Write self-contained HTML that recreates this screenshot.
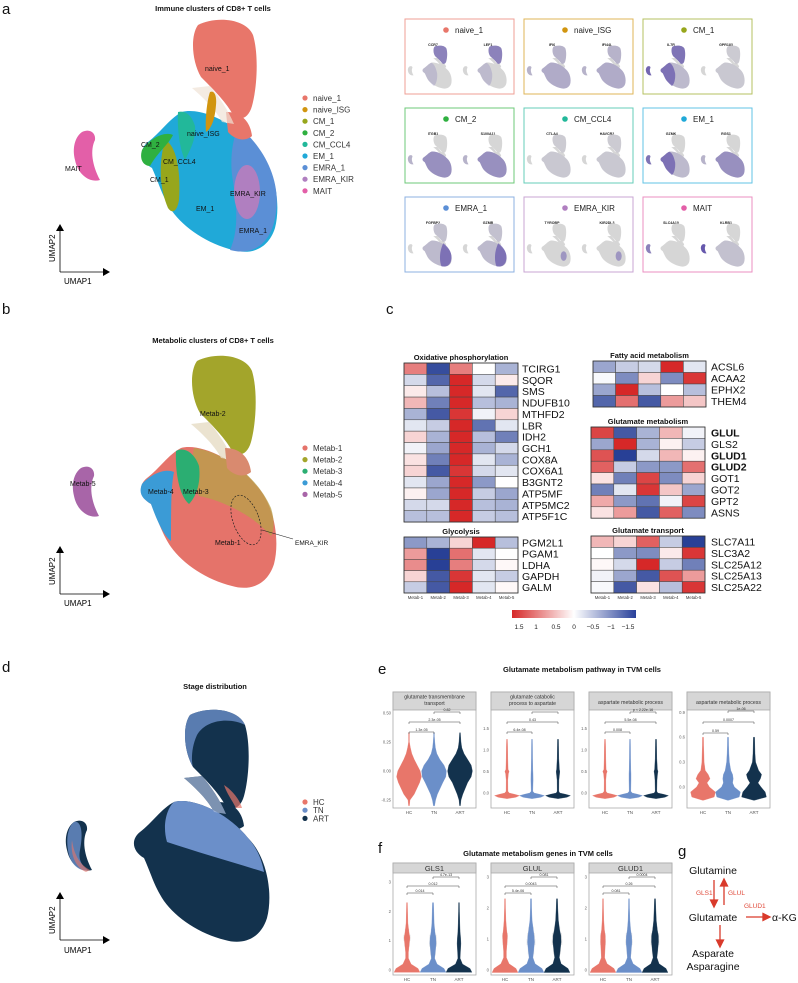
<!DOCTYPE html>
<html><head><meta charset="utf-8">
<style>
html,body{margin:0;padding:0;background:#fff;}
svg{display:block;font-family:"Liberation Sans",Arial,sans-serif;}
.t{font-weight:bold;font-size:7.5px;text-anchor:middle;fill:#111}
.lab{font-size:7px;fill:#111}
.leg{font-size:8px;fill:#333}
.L{font-size:15px;fill:#111}
</style></head><body>
<svg id="fig" width="798" height="983" viewBox="0 0 798 983" xmlns="http://www.w3.org/2000/svg">
<defs>
<linearGradient id="cbar" x1="0" x2="1" y1="0" y2="0">
<stop offset="0" stop-color="#d62828"/><stop offset="0.5" stop-color="#ffffff"/><stop offset="1" stop-color="#28409a"/>
</linearGradient>
<g id="shapeAll">
<path d="M198 25 C215 16 246 18 253 35 C259 55 257 88 252 106 C248 120 238 122 232 113 C225 101 212 88 201 77 C192 62 190 36 198 25Z"/>
<path d="M182 112 C200 107 235 122 256 148 C276 168 281 205 275 228 C268 250 250 255 233 250 C208 244 184 228 172 211 C162 196 160 186 152 168 C141 162 138 150 148 142 C160 133 170 118 182 112Z"/>
<path d="M192 88 C200 95 215 108 222 122 L234 124 C228 110 220 98 210 86Z"/>
<path d="M226 112 C240 112 250 120 252 136 C245 142 235 140 228 132Z"/>
<path d="M82 132 C90 128 96 133 95 140 C90 150 92 165 100 180 C90 183 78 175 75 160 C72 148 75 137 82 132Z"/>
</g>
</defs>

<text class="L" x="2" y="14">a</text>
<text class="L" x="2" y="314">b</text>
<text class="L" x="386" y="314">c</text>
<text class="L" x="2" y="672">d</text>
<text class="L" x="378" y="674">e</text>
<text class="L" x="378" y="853">f</text>
<text class="L" x="678" y="856">g</text>

<text class="t" x="213" y="11">Immune clusters of CD8+ T cells</text>
<g id="umapA">
<path fill="#20a9d8" d="M182 112 C200 107 235 122 256 148 C276 168 281 205 275 228 C268 250 250 255 233 250 C208 244 184 228 172 211 C162 196 160 186 152 168 C141 162 138 150 148 142 C160 133 170 118 182 112Z"/>
<path fill="#5b8fd6" d="M238 126 C262 145 281 178 276 212 C272 245 252 256 230 250 C240 228 236 200 232 175 C230 155 233 140 238 126Z"/>
<ellipse fill="#b07fc0" cx="247" cy="192" rx="13" ry="27"/>
<path fill="#97a61c" d="M165 140 C176 145 181 170 179 200 C177 212 172 214 168 208 C160 190 158 165 165 140Z"/>
<path fill="#2fb040" d="M142 150 C150 138 165 131 173 135 C168 145 158 152 150 166 C144 166 139 160 142 150Z"/>
<path fill="#22b89a" d="M178 112 C186 110 192 116 195 126 C196 140 190 150 185 160 C180 150 177 130 178 112Z"/>
<path fill="#e8766a" d="M198 25 C215 16 246 18 253 35 C259 55 257 88 252 106 C248 120 238 122 232 113 C225 101 212 88 201 77 C192 62 190 36 198 25Z"/>
<path fill="#e8766a" d="M226 112 C240 112 250 120 252 136 C245 142 235 140 228 132Z"/>
<path fill="#efe3d6" opacity="0.7" d="M192 88 C200 95 215 108 222 122 L234 124 C228 110 220 98 210 86Z"/>
<path fill="#d1950f" d="M210 92 C214 90 217 95 216 105 C215 118 212 128 206 132 C205 120 207 100 210 92Z"/>
<path fill="#e35fa8" d="M82 132 C90 128 96 133 95 140 C90 150 92 165 100 180 C90 183 78 175 75 160 C72 148 75 137 82 132Z"/>
<g class="lab">
<text x="205" y="71">naive_1</text><text x="187" y="136">naive_ISG</text><text x="141" y="147">CM_2</text>
<text x="163" y="164">CM_CCL4</text><text x="150" y="182">CM_1</text><text x="196" y="211">EM_1</text>
<text x="230" y="196">EMRA_KIR</text><text x="239" y="233">EMRA_1</text><text x="65" y="171">MAIT</text>
</g>
</g>
<g id="legendA"></g>
<g>
<path d="M60 272 V230 M60 272 H104" stroke="#000" stroke-width="0.8" fill="none"/>
<path d="M56 231 L60 224 L64 231Z M103 268 L110 272 L103 276Z" fill="#000"/>
<text x="55" y="262" font-size="8" transform="rotate(-90 55 262)">UMAP2</text>
<text x="64" y="284" font-size="8">UMAP1</text>
</g>

<g id="featGrid"></g>

<text class="t" x="213" y="343">Metabolic clusters of CD8+ T cells</text>
<g transform="translate(-1,336)">
<path fill="#e5736a" d="M182 112 C200 107 235 122 256 148 C276 168 281 205 275 228 C268 250 250 255 233 250 C208 244 184 228 172 211 C162 196 160 186 152 168 C141 162 138 150 148 142 C160 133 170 118 182 112Z"/>
<path fill="#b7a14a" opacity="0.75" d="M195 112 C225 116 258 140 272 172 C276 185 275 195 272 200 C255 180 225 165 200 160 C192 140 192 125 195 112Z"/>
<path fill="#a3a52b" d="M198 25 C215 16 246 18 253 35 C259 55 257 88 252 106 C248 120 238 122 232 113 C225 101 212 88 201 77 C192 62 190 36 198 25Z"/>
<path fill="#e6dcc4" opacity="0.8" d="M192 88 C200 95 215 108 222 122 L234 124 C228 110 220 98 210 86Z"/>
<path fill="#d98a6f" d="M226 112 C240 112 250 120 252 136 C245 142 235 140 228 132Z"/>
<path fill="#3b9bd6" d="M143 148 C152 138 166 132 175 136 C172 150 172 175 172 205 C165 200 158 185 152 168 C144 163 139 158 143 148Z"/>
<path fill="#2bae72" d="M177 115 C186 110 196 118 200 130 C202 145 198 160 190 168 C180 160 176 135 177 115Z"/>
<path fill="#a865a8" d="M82 132 C90 128 96 133 95 140 C90 150 92 165 100 180 C90 183 78 175 75 160 C72 148 75 137 82 132Z"/>
<ellipse cx="247" cy="184" rx="13" ry="26" transform="rotate(-20 247 184)" fill="none" stroke="#222" stroke-width="0.7" stroke-dasharray="2,1.5"/>
<path d="M263 194 L294 203" stroke="#222" stroke-width="0.6"/>
<g class="lab">
<text x="201" y="80">Metab-2</text><text x="71" y="150">Metab-5</text><text x="149" y="158">Metab-4</text>
<text x="184" y="158">Metab-3</text><text x="216" y="209">Metab-1</text><text x="296" y="209" font-size="6.5">EMRA_KIR</text>
</g>
</g>
<g id="legendB"></g>
<g>
<path d="M60 594 V553 M60 594 H104" stroke="#000" stroke-width="0.8" fill="none"/>
<path d="M56 553 L60 546 L64 553Z M103 590 L110 594 L103 598Z" fill="#000"/>
<text x="55" y="585" font-size="8" transform="rotate(-90 55 585)">UMAP2</text>
<text x="64" y="606" font-size="8">UMAP1</text>
</g>

<g id="heatmaps"></g>
<g>
<rect x="512" y="610" width="124" height="8" fill="url(#cbar)"/>
<g font-size="6.5" fill="#222" text-anchor="middle">
<text x="519" y="629">1.5</text><text x="536" y="629">1</text><text x="556" y="629">0.5</text><text x="574" y="629">0</text>
<text x="593" y="629">−0.5</text><text x="611" y="629">−1</text><text x="628" y="629">−1.5</text>
</g></g>

<text class="t" x="215" y="689">Stage distribution</text>
<g transform="translate(-8,690)">
<use href="#shapeAll" fill="#13324d"/>
<path fill="#6b8fc9" d="M182 112 C200 107 235 122 256 148 C265 158 270 170 272 182 C240 172 205 162 175 152 C170 135 175 118 182 112Z"/>
<path fill="#6b8fc9" opacity="0.8" d="M198 25 C215 16 246 18 253 35 C240 28 215 28 205 45 C198 60 200 75 201 77 C192 62 190 36 198 25Z"/>
<path fill="#a9bbdc" opacity="0.7" d="M192 88 C200 95 215 108 222 122 L234 124 C228 110 220 98 210 86Z"/>
<path fill="#e8766a" opacity="0.7" d="M232 95 C240 100 248 110 250 118 L244 118 C240 110 235 104 232 95Z"/>
<path fill="#6b8fc9" opacity="0.8" d="M82 132 C88 130 92 140 88 160 C86 170 90 176 96 180 C88 182 78 175 76 160 C74 148 76 137 82 132Z"/>
<path fill="#e8766a" opacity="0.6" d="M80 150 C82 165 88 175 98 180 L94 182 C84 178 78 165 80 150Z"/>
</g>
<g id="legendD"></g>
<g>
<path d="M60 940 V899 M60 940 H104" stroke="#000" stroke-width="0.8" fill="none"/>
<path d="M56 899 L60 892 L64 899Z M103 936 L110 940 L103 944Z" fill="#000"/>
<text x="55" y="934" font-size="8" transform="rotate(-90 55 934)">UMAP2</text>
<text x="64" y="953" font-size="8">UMAP1</text>
</g>

<text class="t" x="582" y="672">Glutamate metabolism pathway in TVM cells</text>
<text class="t" x="538" y="856">Glutamate metabolism genes in TVM cells</text>
<g id="violins"></g>

<g font-size="10.5" fill="#111">
<text x="713" y="874" text-anchor="middle">Glutamine</text>
<text x="713" y="921" text-anchor="middle">Glutamate</text>
<text x="772" y="921">α-KG</text>
<text x="713" y="957" text-anchor="middle">Asparate</text>
<text x="713" y="970" text-anchor="middle">Asparagine</text>
<g stroke="#d93a2b" stroke-width="1.3" fill="#d93a2b">
<path d="M714 880 V901"/><path d="M710.5 900 L714 907 L717.5 900Z"/>
<path d="M724 905 V885"/><path d="M720.5 886 L724 879 L727.5 886Z"/>
<path d="M746 917 H764"/><path d="M763 913.5 L770 917 L763 920.5Z"/>
<path d="M720 925 V941"/><path d="M716.5 940 L720 947 L723.5 940Z"/>
</g>
<g font-size="6.5" fill="#e04a3a">
<text x="696" y="895">GLS1</text><text x="728" y="895">GLUL</text><text x="744" y="908">GLUD1</text>
</g>
</g>
</svg>

<script>
const immuneClusters = ["naive_1","naive_ISG","CM_1","CM_2","CM_CCL4","EM_1","EMRA_1","EMRA_KIR","MAIT"];
const immuneColors = ["#e8766a","#d1950f","#97a61c","#2fb040","#22b89a","#20a9d8","#5b8fd6","#b07fc0","#e35fa8"];
const metabClusters = ["Metab-1","Metab-2","Metab-3","Metab-4","Metab-5"];
const metabColors = ["#e5736a","#a3a52b","#2bae72","#3b9bd6","#a865a8"];
const stages = ["HC","TN","ART"];
const stageColors = ["#e8766a","#6b8fc9","#13324d"];

const featGenes = [["CCR7","LEF1"],["IFI6","IFI44L"],["IL7R","GPR183"],["ITGB1","S100A11"],["CTLA4","HAVCR2"],["GZMK","RGS1"],["FGFBP2","GZMB"],["TYROBP","KIR2DL3"],["SLC4A10","KLRB1"]];
const featRegions = [["top","top"],["all","all"],["topleft","light"],["body","body"],["light","light"],["left","body"],["right","right"],["spot","spot"],["mait","maitb"]];

const oxGenes = ["TCIRG1","SQOR","SMS","NDUFB10","MTHFD2","LBR","IDH2","GCH1","COX8A","COX6A1","B3GNT2","ATP5MF","ATP5MC2","ATP5F1C"];
const oxVals = [[0.9,-1.4,0.9,0,-0.6],[-0.3,-1.2,1.5,-0.3,0.15],[0.15,-0.5,1.5,-0.2,-1.2],[0.5,-1.0,1.5,-0.5,-0.6],[-0.6,-1.3,1.4,-0.1,0.3],[-0.2,-0.4,1.5,-1.1,-0.2],[0.3,-0.6,1.5,-0.5,-1.0],[-0.1,-0.7,1.5,-0.6,-0.3],[0.2,-1.0,1.5,-0.2,-0.6],[0.3,-1.3,1.4,-0.3,-0.2],[-0.2,-0.7,1.5,-0.8,0],[0.1,-0.7,1.5,-0.4,-0.7],[-0.3,-0.3,1.5,-0.5,-0.6],[-0.5,-0.5,1.5,-0.4,-0.5]];
const glyGenes = ["PGM2L1","PGAM1","LDHA","GAPDH","GALM"];
const glyVals = [[-0.8,-0.6,0.3,1.5,-0.5],[0.7,-1.5,1.0,-0.2,0],[0.8,-1.5,0.9,-0.3,0.05],[0.3,-1.3,1.4,-0.2,-0.4],[-0.4,-1.3,1.5,-0.2,0.05]];
const fatGenes = ["ACSL6","ACAA2","EPHX2","THEM4"];
const fatVals = [[-0.7,-0.4,-0.3,1.5,-0.2],[-0.05,-0.9,0.3,-0.9,1.4],[-0.7,1.5,-0.5,0,-0.5],[-1.2,1.0,-1.3,0.7,0.4]];
const gmGenes = ["GLUL","GLS2","GLUD1","GLUD2","GOT1","GOT2","GPT2","ASNS"];
const gmBold = ["GLUL","GLUD1","GLUD2"];
const gmVals = [[1.3,-1.3,-0.6,0.5,-0.1],[-0.7,1.5,-0.6,0.1,-0.4],[1.2,-1.5,-0.3,0.5,0.1],[1.1,-0.4,-0.8,-0.8,1.0],[0.2,-1.0,1.3,-0.9,0.3],[-1.0,-0.2,1.4,0.4,-0.7],[0.6,-0.8,-1.1,-0.1,1.3],[0.2,0.7,-1.3,1.1,-0.9]];
const gtGenes = ["SLC7A11","SLC3A2","SLC25A12","SLC25A13","SLC25A22"];
const gtVals = [[0.5,0.3,1.1,-0.4,-1.5],[0,-0.8,-0.9,0.15,1.4],[0.05,-0.3,1.5,-0.4,-1.0],[-0.1,-0.7,-1.3,1.2,0.7],[-0.05,-1.3,0.2,-0.5,1.4]];

const e1Title = ["glutamate transmembrane","transport"];
const e1Levels = [-0.3,-0.25,-0.2,-0.1,-0.05,0,0.05,0.1,0.15,0.2,0.25,0.3,0.33];
const e1HC = [0,0.05,0.4,0.85,1.0,0.9,0.65,0.4,0.2,0.08,0,0,0];
const e1TN = [0.02,0.1,0.25,0.7,0.95,1.0,0.8,0.45,0.2,0.08,0.03,0,0];
const e1ART = [0,0.05,0.2,0.6,0.9,1.0,0.9,0.6,0.3,0.12,0.05,0.02,0];
const e1Ticks = [-0.25,0,0.25,0.5];
const e1P = ["1.3e-05","2.3e-05","0.82"];

const e2Title = ["glutamate catabolic","process to aspartate"];
const e2Levels = [-0.13,-0.1,-0.06,-0.03,0.0,0.04,0.3,0.45,0.5,0.55,0.8,1.1,1.25];
const e2HC = [0,0.7,1.0,0.6,0.15,0.04,0.03,0.08,0.14,0.06,0.03,0.015,0];
const e2TN = [0,0.7,1.0,0.6,0.15,0.03,0.06,0.05,0.04,0.03,0.02,0.01,0];
const e2ART = [0,0.7,1.0,0.6,0.12,0.03,0.04,0.1,0.12,0.08,0.03,0.02,0.01];
const e2Ticks = [0,0.5,1,1.5];
const e2P = ["6.4e-08","0.43",""];

const e3Title = ["aspartate metabolic process"];
const e3Levels = e2Levels;
const e3HC = [0,0.7,1.0,0.6,0.15,0.04,0.03,0.08,0.15,0.06,0.03,0.015,0];
const e3TN = [0,0.7,1.0,0.6,0.15,0.03,0.05,0.05,0.04,0.03,0.02,0.01,0];
const e3ART = [0,0.7,1.0,0.6,0.12,0.03,0.05,0.1,0.13,0.08,0.03,0.02,0.01];
const e3Ticks = [0,0.5,1,1.5];
const e3P = ["0.008","5.5e-08","p < 2.22e-16"];

const e4Title = ["aspartate metabolic process"];
const e4Levels = [-0.16,-0.12,-0.06,0,0.05,0.1,0.15,0.2,0.3,0.4,0.5,0.6];
const e4HC = [0,0.9,1.0,0.5,0.3,0.55,0.4,0.15,0.06,0.04,0.02,0.01];
const e4TN = [0,0.9,1.0,0.5,0.35,0.4,0.35,0.2,0.08,0.04,0.02,0.01];
const e4ART = [0,1.0,0.9,0.55,0.3,0.5,0.6,0.35,0.1,0.05,0.03,0.02];
const e4Ticks = [0,0.3,0.6,0.9];
const e4P = ["0.59","0.0007","1e-06"];

const fLevels = [-0.08,0.05,0.2,0.4,0.6,0.9,1.1,1.3,1.6,2.0,2.3];
const f1Title = ["GLS1"];
const f1HC = [1.0,0.85,0.3,0.08,0.08,0.15,0.2,0.12,0.04,0.02,0];
const f1TN = [1.0,0.85,0.3,0.1,0.15,0.22,0.2,0.12,0.06,0.03,0.01];
const f1ART = [1.0,0.85,0.25,0.06,0.08,0.12,0.1,0.06,0.03,0.01,0];
const f1Ticks = [0,1,2,3];
const f1P = ["0.014","0.012","4.7e-13"];
const f2Title = ["GLUL"];
const f2HC = [1.0,0.85,0.3,0.08,0.08,0.14,0.16,0.1,0.04,0.01,0];
const f2TN = [1.0,0.85,0.3,0.12,0.18,0.25,0.22,0.15,0.06,0.02,0.01];
const f2ART = [1.0,0.85,0.3,0.15,0.22,0.3,0.28,0.18,0.08,0.03,0.01];
const f2Ticks = [0,1,2,3];
const f2P = ["5.4e-06","0.0043","0.081"];
const f3Title = ["GLUD1"];
const f3HC = [1.0,0.85,0.3,0.1,0.12,0.16,0.15,0.08,0.03,0.01,0];
const f3TN = [1.0,0.85,0.3,0.1,0.14,0.2,0.18,0.1,0.04,0.01,0];
const f3ART = [1.0,0.85,0.3,0.12,0.18,0.25,0.24,0.15,0.07,0.03,0.01];
const f3Ticks = [0,1,2,3];
const f3P = ["0.081","0.26","0.0004"];

const NS = "http://www.w3.org/2000/svg";
function el(tag, parent){ const e=document.createElementNS(NS,tag); parent.appendChild(e); return e; }

function legend(gid, names, colors, x, y0, dy, fs){
  const g=document.getElementById(gid);
  names.forEach((n,i)=>{
    const c=el("circle",g); c.setAttribute("cx",x); c.setAttribute("cy",y0+i*dy); c.setAttribute("r",2.6); c.setAttribute("fill",colors[i]);
    
    
    const t=el("text",g); t.setAttribute("x",x+8); t.setAttribute("y",y0+i*dy+3); t.setAttribute("font-size",fs); t.setAttribute("fill","#333"); t.textContent=n;
    
    
  });
}
legend("legendA", immuneClusters, immuneColors, 305, 98, 11.6, 8);
legend("legendB", metabClusters, metabColors, 305, 448, 11.6, 8);
legend("legendD", stages, stageColors, 305, 802, 8.2, 8);

const regionPaths = {
  top:"M198 25 C215 16 246 18 253 35 C259 55 257 88 252 106 C248 120 238 122 232 113 C225 101 212 88 201 77 C192 62 190 36 198 25Z",
  body:"M182 112 C200 107 235 122 256 148 C276 168 281 205 275 228 C268 250 250 255 233 250 C208 244 184 228 172 211 C162 196 160 186 152 168 C141 162 138 150 148 142 C160 133 170 118 182 112Z",
  left:"M182 112 C195 115 205 140 210 170 C212 200 205 230 195 238 C184 228 172 211 172 211 C162 196 160 186 152 168 C141 162 138 150 148 142 C160 133 170 118 182 112Z",
  right:"M238 126 C262 145 281 178 276 212 C272 245 252 256 230 250 C222 228 222 200 225 175 C228 155 233 140 238 126Z",
  mait:"M82 132 C90 128 96 133 95 140 C90 150 92 165 100 180 C90 183 78 175 75 160 C72 148 75 137 82 132Z"
};
const fg=document.getElementById("featGrid");
const boxX=[405,524,643], boxY=[19,108,197];
featGenes.forEach((pair,k)=>{
  const bx=boxX[k%3], by=boxY[Math.floor(k/3)];
  const g=el("g",fg);
  
  
  const r=el("rect",g); r.setAttribute("x",bx); r.setAttribute("y",by); r.setAttribute("width",109); r.setAttribute("height",75);
  r.setAttribute("fill","none"); r.setAttribute("stroke",immuneColors[k]); r.setAttribute("stroke-opacity","0.7"); r.setAttribute("stroke-width","1");
  const d=el("circle",g); d.setAttribute("cx",bx+41); d.setAttribute("cy",by+11); d.setAttribute("r",2.8); d.setAttribute("fill",immuneColors[k]);
  const t=el("text",g); t.setAttribute("x",bx+50); t.setAttribute("y",by+14); t.setAttribute("font-size",8); t.setAttribute("fill","#222"); t.textContent=immuneClusters[k];
  
  
  pair.forEach((gene,j)=>{
    const ox=bx-13+j*55, oy=by+23;
    const gt=el("text",g); gt.setAttribute("x",bx+28+j*55); gt.setAttribute("y",by+27); gt.setAttribute("font-size",3.6); gt.setAttribute("font-weight","bold"); gt.setAttribute("text-anchor","middle"); gt.setAttribute("fill","#222"); gt.textContent=gene;
    
    
    const m=el("g",g); m.setAttribute("transform",`translate(${ox},${oy}) scale(0.215,0.185)`);
    
    
    const u=el("use",m); u.setAttribute("href","#shapeAll"); u.setAttribute("fill","#d6d6d6");
    const reg=featRegions[k][j]; const pc="#5a4aa8";
    function add(p,op){ const pp=el("path",m); pp.setAttribute("d",regionPaths[p]); pp.setAttribute("fill",pc); pp.setAttribute("opacity",op); }
    if(reg==="top"){add("top",0.6);add("left",0.2);}
    else if(reg==="all"){add("top",0.25);add("body",0.3);add("mait",0.25);}
    else if(reg==="topleft"){add("top",0.7);add("left",0.65);add("mait",0.8);add("body",0.2);}
    else if(reg==="light"){add("body",0.1);add("top",0.08);}
    else if(reg==="body"){add("body",0.5);add("mait",0.25);}
    else if(reg==="left"){add("left",0.65);add("body",0.2);add("mait",0.7);}
    else if(reg==="right"){add("right",0.65);add("body",0.2);add("top",0.15);}
    else if(reg==="spot"){const e=el("ellipse",m); e.setAttribute("cx",245);e.setAttribute("cy",195);e.setAttribute("rx",14);e.setAttribute("ry",26);e.setAttribute("fill",pc);e.setAttribute("opacity",0.45);}
    else if(reg==="mait"){add("mait",0.6);}
    else if(reg==="maitb"){add("mait",0.9);add("body",0.15);}
  });
});

function hcol(v){
  const t=Math.max(-1,Math.min(1,v/1.5));
  let c = t>=0 ? [214,40,40] : [40,64,150];
  const a=Math.abs(t);
  return `rgb(${Math.round(255+(c[0]-255)*a)},${Math.round(255+(c[1]-255)*a)},${Math.round(255+(c[2]-255)*a)})`;
}
const hm=document.getElementById("heatmaps");
function heat(name,title,genes,vals,x0,y0,cw,rh,lx,colLabels){
  const g=el("g",hm);
  
  
  const tt=el("text",g); tt.setAttribute("x",x0+cw*2.5); tt.setAttribute("y",y0-3); tt.setAttribute("class","t"); tt.textContent=title;
  
  
  vals.forEach((row,i)=>{
    row.forEach((v,j)=>{
      const r=el("rect",g); r.setAttribute("x",x0+j*cw); r.setAttribute("y",y0+i*rh); r.setAttribute("width",cw); r.setAttribute("height",rh);
      r.setAttribute("fill",hcol(v)); r.setAttribute("stroke","#444"); r.setAttribute("stroke-width","0.5");
      
      
    });
    const t=el("text",g); t.setAttribute("x",lx); t.setAttribute("y",y0+i*rh+rh*0.5+3.8); t.setAttribute("font-size",10.5); t.setAttribute("fill","#111");
    if(gmBold.includes(genes[i]) && name==="heatmap-glutamate-metabolism") t.setAttribute("font-weight","bold");
    t.textContent=genes[i];
    
    
  });
  const fr=el("rect",g); fr.setAttribute("x",x0); fr.setAttribute("y",y0); fr.setAttribute("width",cw*5); fr.setAttribute("height",rh*vals.length); fr.setAttribute("fill","none"); fr.setAttribute("stroke","#333"); fr.setAttribute("stroke-width","0.8");
  if(colLabels){
    metabClusters.forEach((m,j)=>{
      const t=el("text",g); t.setAttribute("x",x0+j*cw+cw/2); t.setAttribute("y",y0+rh*vals.length+6); t.setAttribute("font-size",4.2); t.setAttribute("text-anchor","middle"); t.setAttribute("fill","#333"); t.textContent=m;
      
      
    });
  }
}
heat("heatmap-oxphos","Oxidative phosphorylation",oxGenes,oxVals,404,363,22.8,11.36,522,false);
heat("heatmap-glycolysis","Glycolysis",glyGenes,glyVals,404,537,22.8,11.2,522,true);
heat("heatmap-fatty-acid","Fatty acid metabolism",fatGenes,fatVals,593,361,22.6,11.5,711,false);
heat("heatmap-glutamate-metabolism","Glutamate metabolism",gmGenes,gmVals,591,427,22.8,11.4,711,false);
heat("heatmap-glutamate-transport","Glutamate transport",gtGenes,gtVals,591,536,22.8,11.4,711,true);

const vg=document.getElementById("violins");
function violinPanel(name,px,top,stripH,bottom,title,levels,groups,ticks,yOf,pvals,bracketY,xoffs,maxHW,dotted){
  const g=el("g",vg);
  
  
  const w=83;
  const fr=el("rect",g); fr.setAttribute("x",px); fr.setAttribute("y",top); fr.setAttribute("width",w); fr.setAttribute("height",bottom-top); fr.setAttribute("fill","#fff"); fr.setAttribute("stroke","#aaa"); fr.setAttribute("stroke-width","0.8");
  const st=el("rect",g); st.setAttribute("x",px); st.setAttribute("y",top); st.setAttribute("width",w); st.setAttribute("height",stripH); st.setAttribute("fill","#d6d6d6"); st.setAttribute("stroke","#aaa"); st.setAttribute("stroke-width","0.8");
  
  
  title.forEach((ln,i)=>{
    const t=el("text",g); t.setAttribute("x",px+w/2); t.setAttribute("y",top+(title.length===1?stripH/2+3:6.5+i*6.5)); t.setAttribute("text-anchor","middle");
    t.setAttribute("font-size", stripH>12 ? 5.2 : 7.5); t.setAttribute("fill","#333"); t.textContent=ln;
    
    
  });
  ticks.forEach(v=>{
    const t=el("text",g); t.setAttribute("x",px-2); t.setAttribute("y",yOf(v)+1.5); t.setAttribute("text-anchor","end"); t.setAttribute("font-size",4.2); t.setAttribute("fill","#666"); t.textContent=(name.startsWith("violin-e1")? v.toFixed(2): (Number.isInteger(v)&&name.startsWith("violin-f")? v : v.toFixed(1)));
    
    
  });
  groups.forEach((wid,gi)=>{
    const cx=px+xoffs[gi];
    if(dotted){
      for(let i=0;i<levels.length;i++){ if(wid[i]>0.05 && levels[i]>0.3){ const r=el("rect",g); r.setAttribute("x",cx-maxHW*wid[i]*1.4); r.setAttribute("y",yOf(levels[i])-3); r.setAttribute("width",maxHW*wid[i]*2.8); r.setAttribute("height",6); r.setAttribute("fill","#bbb"); r.setAttribute("opacity","0.35"); } }
    }
    let dR="", dL=[];
    levels.forEach((lv,i)=>{ const y=yOf(lv); const hw=maxHW*wid[i]+0.4; dR += (i===0?"M":"L")+(cx+hw).toFixed(1)+" "+y.toFixed(1)+" "; dL.unshift("L"+(cx-hw).toFixed(1)+" "+y.toFixed(1)); });
    const p=el("path",g); p.setAttribute("d",dR+dL.join(" ")+"Z"); p.setAttribute("fill",stageColors[gi]); p.setAttribute("stroke",stageColors[gi]); p.setAttribute("stroke-width","0.3"); p.setAttribute("stroke-linejoin","round");
    
    
    const xl=el("text",g); xl.setAttribute("x",cx); xl.setAttribute("y",bottom+6); xl.setAttribute("text-anchor","middle"); xl.setAttribute("font-size",4.5); xl.setAttribute("fill","#555"); xl.textContent=stages[gi];
    
    
  });
  const pairs=[[0,1],[0,2],[1,2]];
  pairs.forEach((pr,i)=>{
    const y=bracketY[i], x1=px+xoffs[pr[0]], x2=px+xoffs[pr[1]];
    const b=el("path",g); b.setAttribute("d",`M${x1} ${y+2} V${y} H${x2} V${y+2}`); b.setAttribute("stroke","#444"); b.setAttribute("stroke-width","0.5"); b.setAttribute("fill","none");
    
    
    const t=el("text",g); t.setAttribute("x",(x1+x2)/2); t.setAttribute("y",y-1); t.setAttribute("text-anchor","middle"); t.setAttribute("font-size",3.6); t.setAttribute("fill","#333"); t.textContent=pvals[i];
    
    
  });
}
const eX=[16,41,67], fX=[14,40,66];
violinPanel("violin-e1",393,692,18,808,e1Title,e1Levels,[e1HC,e1TN,e1ART],e1Ticks,v=>771-v*116,e1P,[732,722,712],eX,12,false);
violinPanel("violin-e2",491,692,18,808,e2Title,e2Levels,[e2HC,e2TN,e2ART],e2Ticks,v=>793-v*43,e2P,[732,722,712],eX,12,false);
violinPanel("violin-e3",589,692,18,808,e3Title,e3Levels,[e3HC,e3TN,e3ART],e3Ticks,v=>793-v*43,e3P,[732,722,712],eX,12,false);
violinPanel("violin-e4",687,692,18,808,e4Title,e4Levels,[e4HC,e4TN,e4ART],e4Ticks,v=>787-v*83,e4P,[733,722,711],eX,12,false);
violinPanel("violin-f1",393,863,10,975,f1Title,fLevels,[f1HC,f1TN,f1ART],f1Ticks,v=>970-v*29.3,f1P,[893,886,877],fX,12.5,true);
violinPanel("violin-f2",491,863,10,975,f2Title,fLevels,[f2HC,f2TN,f2ART],f2Ticks,v=>970-v*31,f2P,[893,886,877],fX,12.5,true);
violinPanel("violin-f3",589,863,10,975,f3Title,fLevels,[f3HC,f3TN,f3ART],f3Ticks,v=>970-v*31,f3P,[893,886,877],fX,12.5,true);
</script>
</body></html>
